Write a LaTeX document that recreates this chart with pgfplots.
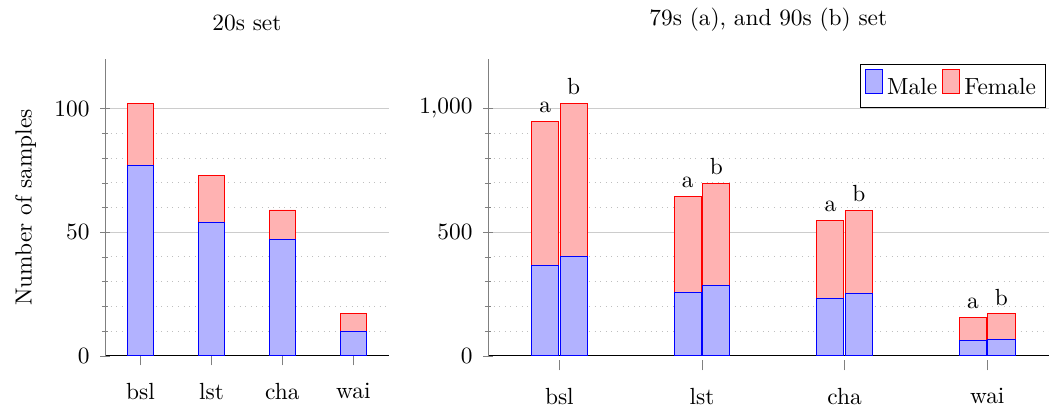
\documentclass[border=0pt]{standalone}
\usepackage{pgfplots}
\pgfplotsset{compat=1.18}
\begin{document}
\begin{tikzpicture}
\pgfplotsset{
  common/.style={
    scale only axis,
    axis x line*=bottom,
    axis y line*=left,
    y axis line style={gray},
    ymin=0,
    ymajorgrids, yminorgrids,
    major grid style={gray!40},
    minor grid style={gray!50, dotted},
    minor y tick num=4,
    xtick=data,
    xticklabels={bsl,lst,cha,wai},
    xmin=-0.5,
    tick align=center,
    x tick style={gray, yshift=-2pt},
    y tick style={gray},
    xticklabel style={yshift=-6pt},
    yticklabel style={xshift=-1pt},
    title style={yshift=2.5pt},
    height=127pt,
  },
  boxlegend/.style={legend image code/.code={\draw[##1] (0cm,-0.25em) rectangle (0.72em,0.8em);}},
}
\begin{axis}[common, ybar stacked,
  name=left,
  at={(0pt,0pt)}, anchor=south west,
  width=121.5pt,
  xmax=3.5, ymax=120,
  ytick={0,50,100},
  bar width=0.375,
  ylabel={Number of samples},
  ylabel style={yshift=1pt},
  title={20s set},
]
\addplot[fill=blue!30, draw=blue] coordinates {(0,77) (1,54) (2,47) (3,10)};
\addplot[fill=red!30, draw=red] coordinates {(0,25) (1,19) (2,12) (3,7)};
\end{axis}
\path (-45pt,20pt) -- (-44pt,20pt);
\begin{axis}[common, ybar,
  at={(164pt,0pt)}, anchor=south west,
  width=240pt,
  xmax=3.43, ymax=1200,
  ytick={0,500,1000},
  bar width=0.19,
  title={79s (a), and 90s (b) set},
  legend columns=2,
  legend style={at={(0.995,0.985)}, anchor=north east, draw=black, inner sep=2pt, column sep=0pt},
]
% totals (male + female)
\addplot[fill=red!30, draw=red, bar shift=-0.1, forget plot, nodes near coords={a}, nodes near coords style={black}] coordinates {(0,950) (1,646) (2,548) (3,155)};
\addplot[fill=red!30, draw=red, bar shift=0.1, forget plot, nodes near coords={b}, nodes near coords style={black}] coordinates {(0,1021) (1,699) (2,588) (3,170)};
% male
\addplot[fill=blue!30, draw=blue, bar shift=-0.1, forget plot] coordinates {(0,367) (1,256) (2,232) (3,62)};
\addplot[fill=blue!30, draw=blue, bar shift=0.1, forget plot] coordinates {(0,402) (1,283) (2,253) (3,67)};
\addlegendimage{boxlegend, fill=blue!30, draw=blue}
\addlegendentry{Male}
\addlegendimage{boxlegend, fill=red!30, draw=red}
\addlegendentry{Female}
\end{axis}
\end{tikzpicture}
\end{document}
